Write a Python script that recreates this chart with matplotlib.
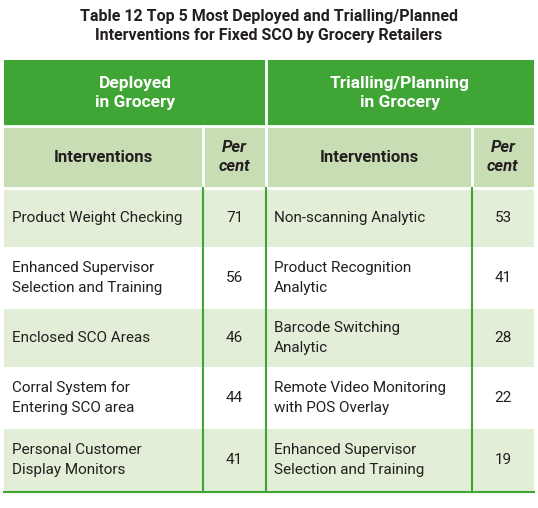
import matplotlib
matplotlib.use("Agg")
import matplotlib.pyplot as plt
from matplotlib.patches import Rectangle

GREEN = "#3fa535"
SUB = "#c8ddb4"
TINT = "#e2eed7"
TXT = "#231f20"
FONT = "Roboto"

groups = ["Deployed\nin Grocery", "Trialling/Planning\nin Grocery"]
deployed = ["Product Weight Checking", "Enhanced Supervisor\nSelection and Training",
            "Enclosed SCO Areas", "Corral System for\nEntering SCO area",
            "Personal Customer\nDisplay Monitors"]
deployed_pct = [71, 56, 46, 44, 41]
trialling = ["Non-scanning Analytic", "Product Recognition\nAnalytic",
             "Barcode Switching\nAnalytic", "Remote Video Monitoring\nwith POS Overlay",
             "Enhanced Supervisor\nSelection and Training"]
trialling_pct = [53, 41, 28, 22, 19]

fig = plt.figure(figsize=(5.38, 5.08), dpi=100)
ax = fig.add_axes([0, 0, 1, 1])
ax.set_xlim(0, 538)
ax.set_ylim(508, 0)
ax.axis("off")

ax.text(269, 26, "Table 12 Top 5 Most Deployed and Trialling/Planned\nInterventions for Fixed SCO by Grocery Retailers",
        ha="center", va="center", fontsize=11.5, fontweight="bold", color=TXT,
        family=FONT, linespacing=1.3)

L, R = 4, 534
cols = [L, 203, 266, 472, R]
H0, H1, B0 = 60, 126, 188
row_h = [60, 60, 60, 60, 64]

# header row
ax.add_patch(Rectangle((L, H0), R - L, H1 - H0, facecolor=GREEN, edgecolor="none"))
ax.plot([266, 266], [H0, H1], color="white", lw=2)
for g, (a, b) in zip(groups, [(cols[0], cols[2]), (cols[2], cols[4])]):
    ax.text((a + b) / 2, (H0 + H1) / 2, g, ha="center", va="center", fontsize=12.5,
            fontweight="bold", color="white", family=FONT, linespacing=1.3)
# subheader
ax.add_patch(Rectangle((L, H1), R - L, B0 - H1, facecolor=SUB, edgecolor="none"))
ax.plot([L, R], [H1, H1], color="white", lw=2)
ax.plot([L, R], [B0, B0], color="white", lw=2)
for x in cols[1:4]:
    ax.plot([x, x], [H1, B0], color="white", lw=2)
for i in range(4):
    cx = (cols[i] + cols[i + 1]) / 2
    if i % 2 == 0:
        ax.text(cx, (H1 + B0) / 2, "Interventions", ha="center", va="center", fontsize=12,
                fontweight="bold", color=TXT, family=FONT)
    else:
        ax.text(cx, (H1 + B0) / 2, "Per\ncent", ha="center", va="center", fontsize=12,
                fontweight="bold", style="italic", color=TXT, family=FONT, linespacing=1.3)

# body
y = B0
for r in range(5):
    h = row_h[r]
    ax.add_patch(Rectangle((L, y), R - L, h, facecolor=TINT if r % 2 == 0 else "white",
                           edgecolor="none"))
    cy = y + h / 2
    for j, (names, pcts) in enumerate([(deployed, deployed_pct), (trialling, trialling_pct)]):
        x0 = cols[2 * j]
        ax.text(x0 + 8, cy, names[r], ha="left", va="center", fontsize=11, color=TXT,
                family=FONT, linespacing=1.5)
        ax.text((cols[2 * j + 1] + cols[2 * j + 2]) / 2, cy, str(pcts[r]), ha="center",
                va="center", fontsize=11, color=TXT, family=FONT)
    y += h
    ax.plot([L, R], [y, y], color="white", lw=1.5)
for x in cols[1:4]:
    ax.plot([x, x], [B0, y], color=GREEN, lw=1.5)
ax.plot([L, R], [y, y], color=GREEN, lw=1.5)

fig.savefig("out.png", dpi=100, facecolor="white")
